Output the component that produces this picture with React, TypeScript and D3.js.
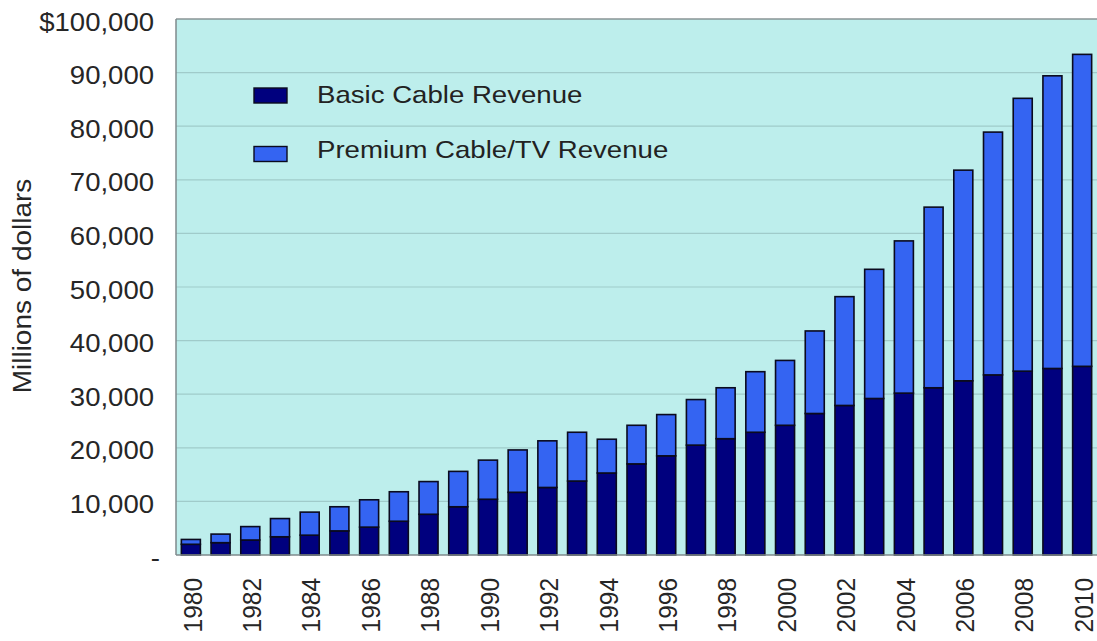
import React from "react";
import * as d3 from "d3";

const years: string[] = d3.range(1980, 2011).map(String);
const basicRevenue: number[] = [
  2000, 2300, 2800, 3400, 3700, 4500, 5200, 6300, 7600, 9000, 10400, 11700, 12600, 13800, 15300, 17000,
  18500, 20500, 21700, 22900, 24200, 26400, 27900, 29200, 30200, 31200, 32500, 33600, 34300, 34800, 35200,
];
const premiumRevenue: number[] = [
  900, 1600, 2500, 3400, 4300, 4500, 5100, 5500, 6100, 6600, 7300, 7900, 8700, 9100, 6300, 7200,
  7700, 8500, 9500, 11300, 12100, 15400, 20300, 24100, 28400, 33700, 39300, 45300, 50900, 54600, 58200,
];
const yTicks: number[] = [0, 10000, 20000, 30000, 40000, 50000, 60000, 70000, 80000, 90000, 100000];
const xLabelYears: string[] = years.filter((_, i) => i % 2 === 0);
const seriesNames: string[] = ["Basic Cable Revenue", "Premium Cable/TV Revenue"];
const seriesColors: string[] = ["#00007e", "#3464f2"];

const W = 1097;
const H = 641;
const plot = { left: 176, right: 1097, top: 19, bottom: 555 };
const FONT = "'Liberation Sans', Arial, Helvetica, sans-serif";

export default function App() {
  const x = d3.scaleBand<string>().domain(years).range([plot.left, plot.right]).paddingInner(0.36).paddingOuter(0.18);
  const y = d3.scaleLinear().domain([0, 100000]).range([plot.bottom, plot.top]);

  const rows = years.map((yr, i) => ({ year: yr, basic: basicRevenue[i], premium: premiumRevenue[i] }));
  const stack = d3.stack<any>().keys(["basic", "premium"]);
  const series = stack(rows);

  const fmt = (v: number) => {
    if (v === 0) return "-";
    const s = d3.format(",")(v);
    return v === 100000 ? "$" + s : s;
  };

  return (
    <svg width={W} height={H} style={{ position: "absolute", left: 0, top: 0, background: "#ffffff" }} fontFamily={FONT}>
      <rect x={0} y={0} width={W} height={H} fill="#ffffff" />
      {/* plot background */}
      <rect x={plot.left} y={plot.top} width={plot.right - plot.left + 2} height={plot.bottom - plot.top} fill="#bdeeec" />
      {/* gridlines */}
      {yTicks.filter((t) => t > 0 && t < 100000).map((t) => (
        <line key={t} x1={plot.left} x2={plot.right} y1={y(t)} y2={y(t)} stroke="#a0cbca" strokeWidth={1.2} />
      ))}
      {/* frame */}
      <line x1={plot.left} x2={plot.right} y1={plot.top} y2={plot.top} stroke="#8a9496" strokeWidth={1.5} />
      <line x1={plot.left} x2={plot.left} y1={plot.top} y2={plot.bottom} stroke="#7f8a8c" strokeWidth={1.5} />
      {/* bars */}
      {series.map((s, si) => (
        <g key={si} fill={seriesColors[si]} stroke="#0a0a1e" strokeWidth={1.6}>
          {s.map((d: any, i: number) => (
            <rect
              key={i}
              x={x(years[i])!}
              y={y(d[1])}
              width={x.bandwidth()}
              height={Math.max(0, y(d[0]) - y(d[1]))}
            />
          ))}
        </g>
      ))}
      <line x1={plot.left} x2={plot.right} y1={plot.bottom} y2={plot.bottom} stroke="#7f8a8c" strokeWidth={1.5} />
      {/* y tick labels */}
      {yTicks.map((t) => (
        <g key={t} transform={`translate(${t === 0 ? 160 : 154},${y(t) + 3}) scale(1.08,1)`}>
          <text textAnchor="end" dominantBaseline="central" fontSize={25.5} fill="#262626">
            {fmt(t)}
          </text>
        </g>
      ))}
      {/* x tick labels */}
      {xLabelYears.map((yr) => (
        <g key={yr} transform={`translate(${x(yr)! + x.bandwidth() / 2 + 1.5},578) rotate(-90) scale(1,1.06)`}>
          <text textAnchor="end" dominantBaseline="central" fontSize={24.5} fill="#262626">
            {yr}
          </text>
        </g>
      ))}
      {/* y axis title */}
      <g transform={`translate(23,286) rotate(-90) scale(1.12,1)`}>
        <text textAnchor="middle" dominantBaseline="central" fontSize={25} fill="#262626">
          Millions of dollars
        </text>
      </g>
      {/* legend */}
      {seriesNames.map((name, i) => (
        <g key={name}>
          <rect x={254} y={88 + i * 58.5} width={33} height={15} fill={seriesColors[i]} stroke="#0a0a1e" strokeWidth={1.4} />
          <g transform={`translate(317,${102.5 + i * 55}) scale(1.15,1)`}>
            <text fontSize={24} fill="#222">
              {name}
            </text>
          </g>
        </g>
      ))}
    </svg>
  );
}
